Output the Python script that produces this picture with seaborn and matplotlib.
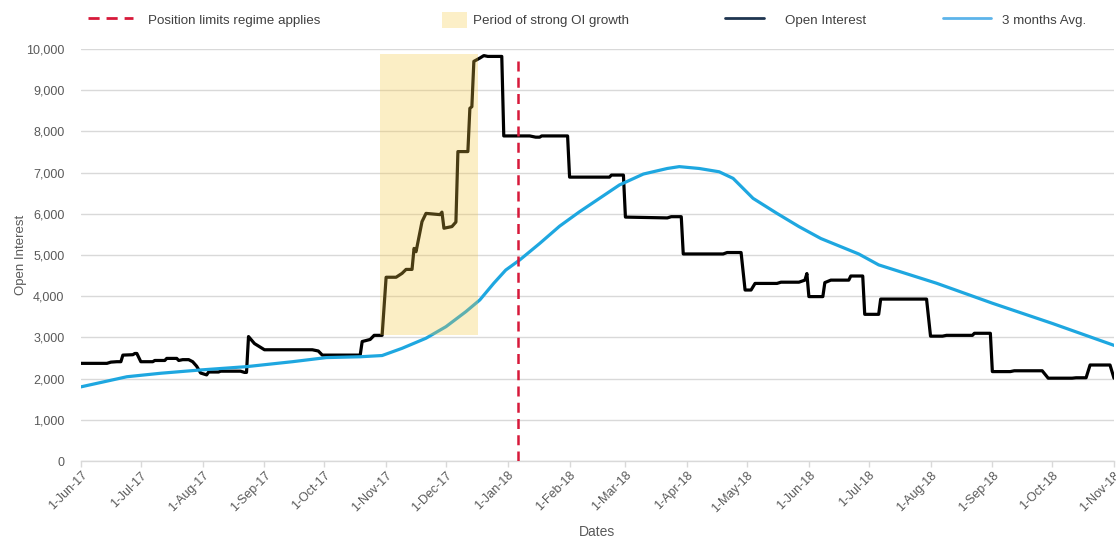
import pandas as pd
import numpy as np
import matplotlib
matplotlib.use('Agg')
import matplotlib.pyplot as plt
import matplotlib.dates as mdates
import matplotlib.ticker as mticker
from matplotlib.lines import Line2D
from matplotlib.patches import Patch
import seaborn as sns

# ── Data ─────────────────────────────────────────────────────────────────────
# x values are days counted from 1-Jun-17
start = pd.Timestamp('2017-06-01')

oi_day = [0, 13, 15, 18, 20, 21, 26, 27, 28, 30, 36, 37, 42, 43, 48, 49, 51, 54,
          56, 58, 60, 63, 64, 69, 70, 80, 82, 83, 84, 87, 90, 92, 116, 119, 121,
          140, 141, 145, 147, 151, 153, 158, 161, 163, 166, 167, 168, 170, 171,
          173, 180, 181, 182, 186, 188, 189, 194, 195, 196, 197, 200, 202, 204,
          211, 212, 225, 228, 230, 231, 244, 245, 265, 266, 272, 273, 294, 296,
          301, 302, 322, 324, 331, 333, 336, 338, 349, 351, 360, 363, 364, 365,
          372, 373, 376, 385, 386, 392, 393, 400, 401, 424, 426, 432, 434, 447,
          448, 456, 457, 466, 468, 482, 485, 497, 499, 504, 506, 516, 518]
oi_val = [2370, 2370, 2400, 2410, 2410, 2570, 2580, 2610, 2610, 2410, 2410, 2440,
          2440, 2490, 2490, 2440, 2460, 2460, 2410, 2300, 2135, 2090, 2160, 2160,
          2180, 2180, 2150, 2150, 3020, 2850, 2760, 2700, 2700, 2670, 2570, 2570,
          2900, 2950, 3050, 3050, 4460, 4460, 4555, 4650, 4650, 5160, 5080, 5565,
          5810, 6010, 5980, 6040, 5650, 5690, 5800, 7510, 7510, 8560, 8600, 9700,
          9780, 9840, 9820, 9820, 7890, 7890, 7860, 7860, 7890, 7890, 6890, 6890,
          6940, 6940, 5920, 5900, 5930, 5930, 5025, 5025, 5060, 5060, 4150, 4150,
          4310, 4310, 4340, 4340, 4390, 4550, 3990, 3990, 4330, 4390, 4390, 4490,
          4490, 3560, 3560, 3930, 3930, 3030, 3030, 3050, 3050, 3100, 3100, 2170,
          2170, 2190, 2190, 2010, 2010, 2020, 2020, 2330, 2330, 2010]

avg_day = [0, 23, 40, 60, 83, 106, 123, 140, 151, 161, 173, 183, 193, 200, 207,
           213, 220, 230, 240, 250, 260, 270, 282, 294, 300, 310, 320, 327, 337,
           349, 360, 371, 390, 400, 429, 457, 487, 519]
avg_val = [1800, 2045, 2130, 2210, 2290, 2410, 2510, 2530, 2560, 2735, 2980, 3260,
           3625, 3910, 4315, 4635, 4880, 5280, 5700, 6050, 6375, 6700, 6965, 7100,
           7145, 7100, 7020, 6860, 6375, 6010, 5690, 5400, 5025, 4760, 4315, 3830,
           3340, 2790]

regime_date = '2018-01-06'
growth_start, growth_end = '2017-10-29', '2017-12-17'
growth_low, growth_high = 3050, 9870

oi = pd.DataFrame({'date': start + pd.to_timedelta(oi_day, unit='D'), 'value': oi_val})
avg = pd.DataFrame({'date': start + pd.to_timedelta(avg_day, unit='D'), 'value': avg_val})

# ── Style ────────────────────────────────────────────────────────────────────
sns.set_theme(style='white')
plt.rcParams['font.family'] = ['Liberation Sans', 'DejaVu Sans']

BLACK = '#000000'
BLUE = '#1ea7e0'
RED = '#d7193a'
SHADE = '#f5c842'
GRID = '#d9d9d9'
TXT = '#595959'

fig = plt.figure(figsize=(11.16, 5.40), dpi=100)
ax = fig.add_axes([81 / 1116, 79 / 540, 1033 / 1116, 412 / 540])

sns.lineplot(data=oi, x='date', y='value', ax=ax, color=BLACK, lw=2.3,
             estimator=None, sort=False, zorder=2)
sns.lineplot(data=avg, x='date', y='value', ax=ax, color=BLUE, lw=2.3,
             estimator=None, sort=False, zorder=2)

# shaded growth period drawn over the lines, semi transparent
ax.fill_between(pd.to_datetime([growth_start, growth_end]), growth_low, growth_high,
                color=SHADE, alpha=0.3, lw=0, zorder=3)
ax.vlines(pd.Timestamp(regime_date), 0, 9800, colors=RED, lw=1.8,
          linestyles=(0, (4, 2.5)), zorder=4)

# ── Axes ─────────────────────────────────────────────────────────────────────
ax.set_xlim(pd.Timestamp('2017-06-01'), pd.Timestamp('2018-11-01'))
ax.set_ylim(0, 10000)
ax.yaxis.set_major_locator(mticker.MultipleLocator(1000))
ax.yaxis.set_major_formatter(mticker.FuncFormatter(lambda v, p: f'{int(v):,}'))
ax.xaxis.set_major_locator(mdates.MonthLocator())
ax.xaxis.set_major_formatter(mticker.FuncFormatter(
    lambda v, p: f"{mdates.num2date(v).day}-{mdates.num2date(v).strftime('%b-%y')}"))

ax.grid(axis='y', color=GRID, lw=1)
ax.grid(axis='x', visible=False)
for s in ['top', 'right', 'left']:
    ax.spines[s].set_visible(False)
ax.spines['bottom'].set_color(GRID)
ax.spines['bottom'].set_linewidth(1)

ax.tick_params(axis='x', length=4, width=1, color=GRID, labelsize=9,
               labelcolor=TXT, pad=2, bottom=True)
ax.tick_params(axis='y', length=0, labelsize=9, labelcolor=TXT, pad=12)
plt.setp(ax.get_xticklabels(), rotation=45, ha='right', rotation_mode='anchor')

ax.set_xlabel('Dates', fontsize=10, color=TXT)
ax.set_ylabel('Open Interest', fontsize=9.5, color=TXT)
ax.xaxis.set_label_coords(0.5, -0.155)
ax.yaxis.set_label_coords(-0.052, 0.5)

# ── Legend (one entry per slot across the top) ───────────────────────────────
items = [
    (Line2D([], [], color=RED, lw=2, ls=(0, (4, 2.5))), 'Position limits regime applies', 88, 3.4, 1.1),
    (Patch(facecolor='#fcefc7', edgecolor='none'), 'Period of strong OI growth', 442, 1.9, 0.4),
    (Line2D([], [], color='#1f3550', lw=2), 'Open Interest', 725, 2.9, 1.6),
    (Line2D([], [], color='#5db4ea', lw=2), '3 months Avg.', 943, 3.6, 0.8),
]
for handle, label, x0, hl, pad in items:
    fig.legend([handle], [label], loc='center left', bbox_to_anchor=(x0 / 1116, 1 - 20 / 540),
               frameon=False, fontsize=9.6, handlelength=hl, handleheight=1.4,
               handletextpad=pad, borderpad=0, borderaxespad=0, labelcolor='#404040')

plt.savefig('out.png', dpi=100)
